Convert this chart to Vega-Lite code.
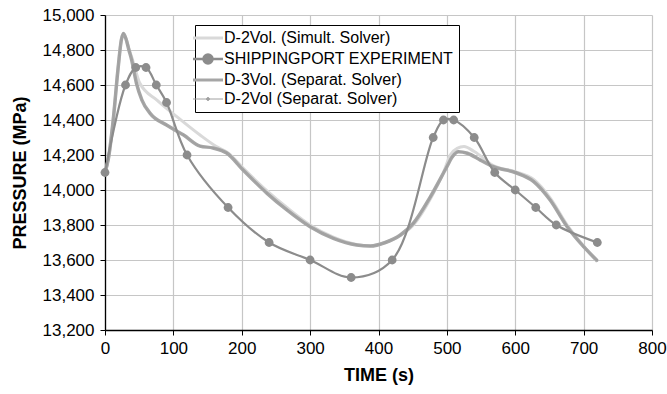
{
  "$schema": "https://vega.github.io/schema/vega-lite/v6.json",
  "autosize": "none",
  "width": 547,
  "height": 315,
  "padding": {"left": 105, "top": 15, "right": 15, "bottom": 64},
  "background": "white",
  "config": {
    "font": "Liberation Sans",
    "view": {"stroke": null},
    "axis": {
      "labelFont": "Liberation Sans",
      "labelFontSize": 17,
      "labelColor": "#000000",
      "titleFont": "Liberation Sans",
      "titleFontSize": 18,
      "titleFontWeight": "bold",
      "titleColor": "#000000",
      "domainColor": "#000000",
      "domainWidth": 1.3,
      "tickColor": "#000000",
      "tickSize": 5,
      "gridColor": "#c6c6c6",
      "gridWidth": 1.2
    }
  },
  "datasets": {
    "sims": [
      {"series": "D-2Vol. (Simult. Solver)", "t": 0, "p": 14100},
      {"series": "D-2Vol. (Simult. Solver)", "t": 5, "p": 14180},
      {"series": "D-2Vol. (Simult. Solver)", "t": 12, "p": 14400},
      {"series": "D-2Vol. (Simult. Solver)", "t": 19, "p": 14690},
      {"series": "D-2Vol. (Simult. Solver)", "t": 24, "p": 14860},
      {"series": "D-2Vol. (Simult. Solver)", "t": 27, "p": 14890},
      {"series": "D-2Vol. (Simult. Solver)", "t": 31, "p": 14860},
      {"series": "D-2Vol. (Simult. Solver)", "t": 35, "p": 14805},
      {"series": "D-2Vol. (Simult. Solver)", "t": 39, "p": 14760},
      {"series": "D-2Vol. (Simult. Solver)", "t": 51, "p": 14610},
      {"series": "D-2Vol. (Simult. Solver)", "t": 76, "p": 14514},
      {"series": "D-2Vol. (Simult. Solver)", "t": 105, "p": 14419},
      {"series": "D-2Vol. (Simult. Solver)", "t": 139, "p": 14314},
      {"series": "D-2Vol. (Simult. Solver)", "t": 163, "p": 14248},
      {"series": "D-2Vol. (Simult. Solver)", "t": 180, "p": 14212},
      {"series": "D-2Vol. (Simult. Solver)", "t": 202, "p": 14125},
      {"series": "D-2Vol. (Simult. Solver)", "t": 237, "p": 13995},
      {"series": "D-2Vol. (Simult. Solver)", "t": 266, "p": 13900},
      {"series": "D-2Vol. (Simult. Solver)", "t": 300, "p": 13800},
      {"series": "D-2Vol. (Simult. Solver)", "t": 334, "p": 13730},
      {"series": "D-2Vol. (Simult. Solver)", "t": 368, "p": 13688},
      {"series": "D-2Vol. (Simult. Solver)", "t": 388, "p": 13680},
      {"series": "D-2Vol. (Simult. Solver)", "t": 410, "p": 13700},
      {"series": "D-2Vol. (Simult. Solver)", "t": 432, "p": 13740},
      {"series": "D-2Vol. (Simult. Solver)", "t": 451, "p": 13800},
      {"series": "D-2Vol. (Simult. Solver)", "t": 476, "p": 13950},
      {"series": "D-2Vol. (Simult. Solver)", "t": 495, "p": 14100},
      {"series": "D-2Vol. (Simult. Solver)", "t": 505, "p": 14200},
      {"series": "D-2Vol. (Simult. Solver)", "t": 515, "p": 14238},
      {"series": "D-2Vol. (Simult. Solver)", "t": 525, "p": 14248},
      {"series": "D-2Vol. (Simult. Solver)", "t": 540, "p": 14220},
      {"series": "D-2Vol. (Simult. Solver)", "t": 568, "p": 14140},
      {"series": "D-2Vol. (Simult. Solver)", "t": 600, "p": 14105},
      {"series": "D-2Vol. (Simult. Solver)", "t": 627, "p": 14060},
      {"series": "D-2Vol. (Simult. Solver)", "t": 651, "p": 13955},
      {"series": "D-2Vol. (Simult. Solver)", "t": 676, "p": 13800},
      {"series": "D-2Vol. (Simult. Solver)", "t": 700, "p": 13680},
      {"series": "D-2Vol. (Simult. Solver)", "t": 720, "p": 13590},

      {"series": "D-3Vol. (Separat. Solver)", "t": 0, "p": 14100},
      {"series": "D-3Vol. (Separat. Solver)", "t": 5, "p": 14180},
      {"series": "D-3Vol. (Separat. Solver)", "t": 12, "p": 14400},
      {"series": "D-3Vol. (Separat. Solver)", "t": 19, "p": 14690},
      {"series": "D-3Vol. (Separat. Solver)", "t": 24, "p": 14860},
      {"series": "D-3Vol. (Separat. Solver)", "t": 27, "p": 14895},
      {"series": "D-3Vol. (Separat. Solver)", "t": 31, "p": 14860},
      {"series": "D-3Vol. (Separat. Solver)", "t": 35, "p": 14800},
      {"series": "D-3Vol. (Separat. Solver)", "t": 39, "p": 14743},
      {"series": "D-3Vol. (Separat. Solver)", "t": 46, "p": 14610},
      {"series": "D-3Vol. (Separat. Solver)", "t": 54, "p": 14514},
      {"series": "D-3Vol. (Separat. Solver)", "t": 66, "p": 14438},
      {"series": "D-3Vol. (Separat. Solver)", "t": 90, "p": 14371},
      {"series": "D-3Vol. (Separat. Solver)", "t": 115, "p": 14314},
      {"series": "D-3Vol. (Separat. Solver)", "t": 139, "p": 14251},
      {"series": "D-3Vol. (Separat. Solver)", "t": 158, "p": 14240},
      {"series": "D-3Vol. (Separat. Solver)", "t": 178, "p": 14211},
      {"series": "D-3Vol. (Separat. Solver)", "t": 202, "p": 14114},
      {"series": "D-3Vol. (Separat. Solver)", "t": 237, "p": 13981},
      {"series": "D-3Vol. (Separat. Solver)", "t": 266, "p": 13886},
      {"series": "D-3Vol. (Separat. Solver)", "t": 300, "p": 13790},
      {"series": "D-3Vol. (Separat. Solver)", "t": 334, "p": 13724},
      {"series": "D-3Vol. (Separat. Solver)", "t": 368, "p": 13686},
      {"series": "D-3Vol. (Separat. Solver)", "t": 388, "p": 13680},
      {"series": "D-3Vol. (Separat. Solver)", "t": 410, "p": 13700},
      {"series": "D-3Vol. (Separat. Solver)", "t": 432, "p": 13743},
      {"series": "D-3Vol. (Separat. Solver)", "t": 451, "p": 13810},
      {"series": "D-3Vol. (Separat. Solver)", "t": 476, "p": 13962},
      {"series": "D-3Vol. (Separat. Solver)", "t": 500, "p": 14133},
      {"series": "D-3Vol. (Separat. Solver)", "t": 508, "p": 14190},
      {"series": "D-3Vol. (Separat. Solver)", "t": 517, "p": 14219},
      {"series": "D-3Vol. (Separat. Solver)", "t": 530, "p": 14210},
      {"series": "D-3Vol. (Separat. Solver)", "t": 549, "p": 14171},
      {"series": "D-3Vol. (Separat. Solver)", "t": 568, "p": 14133},
      {"series": "D-3Vol. (Separat. Solver)", "t": 600, "p": 14100},
      {"series": "D-3Vol. (Separat. Solver)", "t": 627, "p": 14048},
      {"series": "D-3Vol. (Separat. Solver)", "t": 651, "p": 13943},
      {"series": "D-3Vol. (Separat. Solver)", "t": 676, "p": 13790},
      {"series": "D-3Vol. (Separat. Solver)", "t": 700, "p": 13676},
      {"series": "D-3Vol. (Separat. Solver)", "t": 720, "p": 13596},

      {"series": "D-2Vol (Separat. Solver)", "t": 0, "p": 14100},
      {"series": "D-2Vol (Separat. Solver)", "t": 3, "p": 14140},
      {"series": "D-2Vol (Separat. Solver)", "t": 6, "p": 14210},
      {"series": "D-2Vol (Separat. Solver)", "t": 9, "p": 14300},
      {"series": "D-2Vol (Separat. Solver)", "t": 12, "p": 14400},
      {"series": "D-2Vol (Separat. Solver)", "t": 15, "p": 14520},
      {"series": "D-2Vol (Separat. Solver)", "t": 18, "p": 14650},
      {"series": "D-2Vol (Separat. Solver)", "t": 21, "p": 14770},
      {"series": "D-2Vol (Separat. Solver)", "t": 24, "p": 14860},
      {"series": "D-2Vol (Separat. Solver)", "t": 27, "p": 14895},
      {"series": "D-2Vol (Separat. Solver)", "t": 30, "p": 14870},
      {"series": "D-2Vol (Separat. Solver)", "t": 33, "p": 14830},
      {"series": "D-2Vol (Separat. Solver)", "t": 36, "p": 14790},
      {"series": "D-2Vol (Separat. Solver)", "t": 39, "p": 14743},
      {"series": "D-2Vol (Separat. Solver)", "t": 46, "p": 14610},
      {"series": "D-2Vol (Separat. Solver)", "t": 54, "p": 14514},
      {"series": "D-2Vol (Separat. Solver)", "t": 66, "p": 14438},
      {"series": "D-2Vol (Separat. Solver)", "t": 90, "p": 14371},
      {"series": "D-2Vol (Separat. Solver)", "t": 115, "p": 14314},
      {"series": "D-2Vol (Separat. Solver)", "t": 139, "p": 14251},
      {"series": "D-2Vol (Separat. Solver)", "t": 158, "p": 14240},
      {"series": "D-2Vol (Separat. Solver)", "t": 178, "p": 14211},
      {"series": "D-2Vol (Separat. Solver)", "t": 202, "p": 14114},
      {"series": "D-2Vol (Separat. Solver)", "t": 237, "p": 13981},
      {"series": "D-2Vol (Separat. Solver)", "t": 266, "p": 13886},
      {"series": "D-2Vol (Separat. Solver)", "t": 300, "p": 13790},
      {"series": "D-2Vol (Separat. Solver)", "t": 334, "p": 13724},
      {"series": "D-2Vol (Separat. Solver)", "t": 368, "p": 13686},
      {"series": "D-2Vol (Separat. Solver)", "t": 388, "p": 13680},
      {"series": "D-2Vol (Separat. Solver)", "t": 410, "p": 13700},
      {"series": "D-2Vol (Separat. Solver)", "t": 432, "p": 13743},
      {"series": "D-2Vol (Separat. Solver)", "t": 451, "p": 13810},
      {"series": "D-2Vol (Separat. Solver)", "t": 476, "p": 13962},
      {"series": "D-2Vol (Separat. Solver)", "t": 500, "p": 14133},
      {"series": "D-2Vol (Separat. Solver)", "t": 508, "p": 14190},
      {"series": "D-2Vol (Separat. Solver)", "t": 517, "p": 14219},
      {"series": "D-2Vol (Separat. Solver)", "t": 530, "p": 14210},
      {"series": "D-2Vol (Separat. Solver)", "t": 549, "p": 14171},
      {"series": "D-2Vol (Separat. Solver)", "t": 568, "p": 14133},
      {"series": "D-2Vol (Separat. Solver)", "t": 600, "p": 14100},
      {"series": "D-2Vol (Separat. Solver)", "t": 627, "p": 14048},
      {"series": "D-2Vol (Separat. Solver)", "t": 651, "p": 13943},
      {"series": "D-2Vol (Separat. Solver)", "t": 676, "p": 13790},
      {"series": "D-2Vol (Separat. Solver)", "t": 700, "p": 13676},
      {"series": "D-2Vol (Separat. Solver)", "t": 720, "p": 13596}
    ],
    "exp": [
      {"series": "SHIPPINGPORT EXPERIMENT", "t": 0, "p": 14100},
      {"series": "SHIPPINGPORT EXPERIMENT", "t": 30, "p": 14600},
      {"series": "SHIPPINGPORT EXPERIMENT", "t": 45, "p": 14700},
      {"series": "SHIPPINGPORT EXPERIMENT", "t": 60, "p": 14700},
      {"series": "SHIPPINGPORT EXPERIMENT", "t": 75, "p": 14600},
      {"series": "SHIPPINGPORT EXPERIMENT", "t": 90, "p": 14500},
      {"series": "SHIPPINGPORT EXPERIMENT", "t": 120, "p": 14200},
      {"series": "SHIPPINGPORT EXPERIMENT", "t": 180, "p": 13900},
      {"series": "SHIPPINGPORT EXPERIMENT", "t": 240, "p": 13700},
      {"series": "SHIPPINGPORT EXPERIMENT", "t": 300, "p": 13600},
      {"series": "SHIPPINGPORT EXPERIMENT", "t": 360, "p": 13500},
      {"series": "SHIPPINGPORT EXPERIMENT", "t": 420, "p": 13600},
      {"series": "SHIPPINGPORT EXPERIMENT", "t": 480, "p": 14300},
      {"series": "SHIPPINGPORT EXPERIMENT", "t": 495, "p": 14400},
      {"series": "SHIPPINGPORT EXPERIMENT", "t": 510, "p": 14400},
      {"series": "SHIPPINGPORT EXPERIMENT", "t": 540, "p": 14300},
      {"series": "SHIPPINGPORT EXPERIMENT", "t": 570, "p": 14100},
      {"series": "SHIPPINGPORT EXPERIMENT", "t": 600, "p": 14000},
      {"series": "SHIPPINGPORT EXPERIMENT", "t": 630, "p": 13900},
      {"series": "SHIPPINGPORT EXPERIMENT", "t": 660, "p": 13800},
      {"series": "SHIPPINGPORT EXPERIMENT", "t": 720, "p": 13700}
    ]
  },
  "encoding": {
    "x": {
      "field": "t", "type": "quantitative", "title": "TIME (s)",
      "scale": {"domain": [0, 800], "nice": false, "zero": false},
      "axis": {"values": [0, 100, 200, 300, 400, 500, 600, 700, 800], "format": "d", "labelPadding": 5, "titlePadding": 10, "labelFlush": false}
    },
    "y": {
      "field": "p", "type": "quantitative", "title": "PRESSURE (MPa)",
      "scale": {"domain": [13200, 15000], "nice": false, "zero": false},
      "axis": {"values": [13200, 13400, 13600, 13800, 14000, 14200, 14400, 14600, 14800, 15000], "format": ",.0f", "labelPadding": 6, "titlePadding": 13, "labelFlush": false}
    },
    "color": {
      "field": "series", "type": "nominal",
      "scale": {
        "domain": ["D-2Vol. (Simult. Solver)", "SHIPPINGPORT EXPERIMENT", "D-3Vol. (Separat. Solver)", "D-2Vol (Separat. Solver)"],
        "range": ["#d9d9d9", "#8c8c8c", "#a6a6a6", "#a0a0a0"]
      },
      "legend": {
        "title": null,
        "orient": "none",
        "legendX": 90,
        "legendY": 10,
        "labelFont": "Liberation Sans",
        "labelFontSize": 16,
        "labelColor": "#000000",
        "labelLimit": 400,
        "symbolSize": 900,
        "symbolType": "stroke",
        "labelOffset": 8,
        "rowPadding": 3,
        "padding": 5,
        "strokeColor": "#000000",
        "fillColor": "#ffffff",
        "encode": {
          "symbols": {
            "update": {
              "shape": {"signal": "datum.value === 'SHIPPINGPORT EXPERIMENT' ? 'M-1,0H-0.3M0.3,0H1M-0.3,0A0.3,0.3 0 1,0 0.3,0A0.3,0.3 0 1,0 -0.3,0Z' : datum.value === 'D-2Vol (Separat. Solver)' ? 'M-1,0H1M-0.1,0A0.1,0.1 0 1,0 0.1,0A0.1,0.1 0 1,0 -0.1,0Z' : 'stroke'"},
              "fill": {"signal": "datum.value === 'SHIPPINGPORT EXPERIMENT' ? '#8c8c8c' : datum.value === 'D-2Vol (Separat. Solver)' ? '#a0a0a0' : 'transparent'"},
              "strokeWidth": {"signal": "datum.value === 'D-2Vol (Separat. Solver)' ? 1 : datum.value === 'SHIPPINGPORT EXPERIMENT' ? 2.5 : 3"}
            }
          }
        }
      }
    }
  },
  "layer": [
    {
      "data": {"name": "sims"},
      "transform": [{"filter": "datum.series === 'D-2Vol. (Simult. Solver)'"}],
      "mark": {"type": "line", "strokeWidth": 3, "interpolate": "monotone"}
    },
    {
      "data": {"name": "sims"},
      "transform": [{"filter": "datum.series === 'D-3Vol. (Separat. Solver)'"}],
      "mark": {"type": "line", "strokeWidth": 3.5, "interpolate": "monotone"}
    },
    {
      "data": {"name": "sims"},
      "transform": [{"filter": "datum.series === 'D-2Vol (Separat. Solver)'"}],
      "mark": {"type": "line", "strokeWidth": 1, "interpolate": "monotone"}
    },
    {
      "data": {"name": "sims"},
      "transform": [{"filter": "datum.series === 'D-2Vol (Separat. Solver)'"}],
      "mark": {"type": "point", "filled": true, "size": 5, "opacity": 1}
    },
    {
      "data": {"name": "exp"},
      "mark": {"type": "line", "strokeWidth": 2.2, "interpolate": "catmull-rom"}
    },
    {
      "data": {"name": "exp"},
      "mark": {"type": "point", "filled": true, "size": 78, "opacity": 1}
    }
  ]
}
